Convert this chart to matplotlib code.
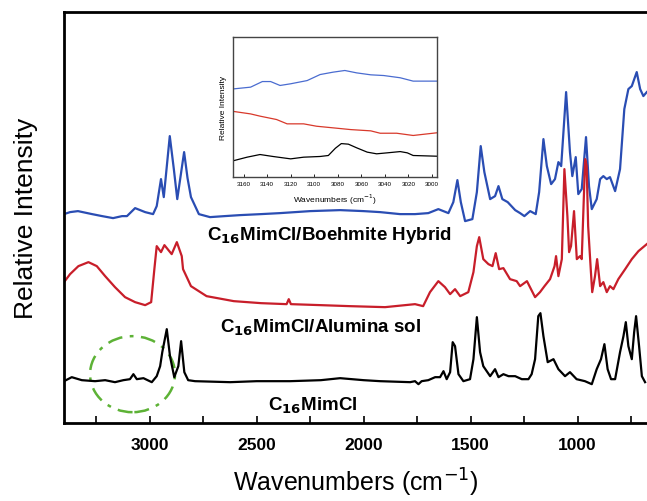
import matplotlib.pyplot as plt
from matplotlib.patches import Ellipse
from matplotlib.ticker import MultipleLocator

plt.rcParams['font.family'] = ['Liberation Sans', 'DejaVu Sans']

# %%
# espectros (numero de onda, intensidade relativa)
wn_hybrid = [3400, 3372, 3335, 3269, 3222, 3171, 3129, 3106, 3068, 3021, 2984, 2967, 2947, 2934,
             2906, 2887, 2871, 2852, 2839, 2823, 2807, 2770, 2718, 2650, 2578, 2480, 2391, 2250,
             2110, 2000, 1923, 1830, 1760, 1698, 1651, 1604, 1581, 1562, 1546, 1526, 1492, 1471,
             1453, 1436, 1409, 1386, 1370, 1352, 1327, 1292, 1269, 1249, 1222, 1196, 1180, 1160,
             1144, 1124, 1106, 1090, 1077, 1054, 1036, 1025, 1009, 997, 981, 961, 947, 934, 911,
             895, 880, 864, 849, 825, 802, 782, 763, 747, 724, 708, 693, 677]
int_hybrid = [209, 211, 212, 209, 207, 205, 207, 207, 215, 211, 209, 217, 244, 226,
              287, 254, 224, 252, 271, 245, 226, 209, 206, 207, 208, 209, 210, 212,
              213, 212, 211, 209, 209, 210, 214, 210, 221, 243, 221, 202, 204, 231,
              277, 251, 224, 227, 237, 224, 221, 213, 210, 207, 212, 209, 231, 284,
              257, 239, 244, 261, 257, 331, 271, 247, 266, 229, 234, 286, 237, 214, 224,
              244, 247, 244, 246, 232, 254, 314, 334, 337, 351, 334, 327, 331]

wn_sol = [3400, 3372, 3333, 3286, 3247, 3208, 3162, 3115, 3068, 3021, 2993, 2978, 2967, 2947,
          2931, 2897, 2873, 2850, 2844, 2820, 2807, 2734, 2607, 2480, 2360, 2350, 2340, 2200,
          2065, 1900, 1760, 1722, 1690, 1651, 1620, 1596, 1573, 1549, 1511, 1487, 1471, 1460,
          1441, 1417, 1398, 1383, 1367, 1347, 1316, 1285, 1269, 1237, 1218, 1199, 1176, 1155,
          1129, 1108, 1101, 1090, 1074, 1062, 1048, 1040, 1031, 1017, 1004, 989, 981, 965,
          958, 951, 938, 932, 919, 909, 895, 880, 864, 849, 833, 810, 778, 747, 716, 677]
int_sol = [141, 149, 157, 161, 157, 147, 136, 126, 121, 118, 121, 154, 177, 171,
           178, 169, 181, 167, 154, 143, 137, 127, 122, 120, 119, 124, 119, 118,
           117, 116, 119, 117, 131, 142, 136, 129, 134, 127, 131, 151, 177, 186,
           164, 159, 157, 170, 154, 155, 144, 142, 137, 142, 134, 126, 131, 137,
           144, 157, 167, 147, 164, 254, 207, 171, 177, 212, 164, 167, 164, 264,
           257, 197, 151, 131, 147, 164, 137, 141, 131, 137, 134, 144, 154, 164, 172, 179]

wn_pure = [3400, 3364, 3317, 3255, 3208, 3162, 3123, 3092, 3076, 3060, 3029, 2990, 2967, 2951,
           2941, 2920, 2905, 2885, 2866, 2853, 2838, 2820, 2788, 2624, 2500, 2344, 2200, 2110,
           2000, 1923, 1783, 1760, 1744, 1729, 1698, 1666, 1643, 1627, 1612, 1596, 1584, 1573,
           1557, 1534, 1503, 1487, 1471, 1456, 1441, 1409, 1386, 1370, 1347, 1323, 1292, 1261,
           1230, 1215, 1199, 1184, 1174, 1160, 1140, 1113, 1090, 1059, 1036, 1005, 966, 934,
           911, 891, 875, 860, 844, 825, 802, 786, 775, 763, 747, 736, 727, 713, 700, 685]
int_pure = [42, 46, 43, 42, 43, 41, 43, 44, 49, 44, 45, 41, 47, 57,
            71, 94, 67, 46, 57, 82, 51, 43, 42, 41, 42, 42, 43, 45,
            43, 42, 41, 42, 39, 42, 43, 46, 46, 52, 44, 51, 81, 77,
            49, 42, 44, 64, 106, 71, 57, 47, 54, 46, 49, 47, 47, 44,
            44, 49, 64, 107, 110, 87, 61, 64, 54, 47, 51, 44, 42, 39,
            54, 64, 79, 54, 44, 44, 71, 87, 101, 77, 64, 91, 107, 77, 47, 41]

# detalhe da regiao 3000-3170 (inset)
wn_in_hybrid = [3168, 3154, 3144, 3137, 3129, 3120, 3106, 3095, 3084, 3074, 3064, 3052, 3041, 3027, 3016, 2996]
int_in_hybrid = [0.631, 0.643, 0.683, 0.683, 0.655, 0.667, 0.69, 0.733, 0.75, 0.762, 0.745, 0.731, 0.726, 0.71, 0.686, 0.686]
wn_in_sol = [3168, 3154, 3146, 3132, 3123, 3109, 3098, 3081, 3069, 3052, 3044, 3030, 3016, 2996]
int_in_sol = [0.469, 0.452, 0.436, 0.412, 0.381, 0.381, 0.364, 0.35, 0.34, 0.331, 0.314, 0.314, 0.298, 0.317]
wn_in_pure = [3168, 3157, 3146, 3135, 3120, 3109, 3095, 3088, 3082, 3077, 3071, 3064, 3055, 3047, 3038, 3027, 3021, 3016, 2996]
int_in_pure = [0.119, 0.143, 0.162, 0.148, 0.131, 0.143, 0.148, 0.155, 0.207, 0.24, 0.236, 0.21, 0.179, 0.167, 0.174, 0.183, 0.174, 0.155, 0.15]

labels = [r"C$_{\mathbf{16}}$MimCl/Boehmite Hybrid",
          r"C$_{\mathbf{16}}$MimCl/Alumina sol",
          r"C$_{\mathbf{16}}$MimCl"]

# %%
fig = plt.figure(figsize=(6.47, 5.02), dpi=100)
ax = fig.add_axes([0.099, 0.155, 0.901, 0.819])

ax.plot(wn_hybrid, int_hybrid, color='#2a4db3', lw=1.6)
ax.plot(wn_sol, int_sol, color='#c81e2a', lw=1.6)
ax.plot(wn_pure, int_pure, color='black', lw=1.6)

ax.add_patch(Ellipse((3080, 49), 397, 76, fill=False, ec='#5db236',
                     lw=1.8, ls=(0, (6, 3, 1.5, 3))))

ax.text(2162, 189, labels[0], ha='center', va='center', fontsize=13.5, fontweight='bold')
ax.text(2200, 96, labels[1], ha='center', va='center', fontsize=13.5, fontweight='bold')
ax.text(2236, 18, labels[2], ha='center', va='center', fontsize=13.5, fontweight='bold')

ax.set_xlim(3400, 676)
ax.set_ylim(0, 411)
ax.xaxis.set_major_locator(MultipleLocator(500))
ax.xaxis.set_minor_locator(MultipleLocator(250))
ax.tick_params(axis='x', which='both', direction='in', length=5, width=1.2, labelsize=12.5, pad=10)
ax.tick_params(axis='y', left=False, labelleft=False)
for lbl in ax.get_xticklabels():
    lbl.set_fontweight('bold')
for s in ['left', 'bottom', 'top']:
    ax.spines[s].set_linewidth(2)
ax.spines['right'].set_visible(False)
ax.set_xlabel(r"Wavenumbers (cm$^{-1}$)", fontsize=18, labelpad=10)
ax.set_ylabel("Relative Intensity", fontsize=19, labelpad=19)

# %%
# inset
axi = fig.add_axes([0.360, 0.645, 0.315, 0.279])
axi.plot(wn_in_hybrid, int_in_hybrid, color='#4a6cd0', lw=0.9)
axi.plot(wn_in_sol, int_in_sol, color='#d8392b', lw=0.9)
axi.plot(wn_in_pure, int_in_pure, color='black', lw=0.9)
axi.set_xlim(3169, 2996)
axi.set_ylim(0, 1)
axi.xaxis.set_major_locator(MultipleLocator(20))
axi.tick_params(axis='x', direction='in', length=2, width=0.6, labelsize=4.5, pad=3)
axi.tick_params(axis='y', left=False, labelleft=False)
for s in axi.spines.values():
    s.set_linewidth(1)
    s.set_color('#444444')
axi.set_xlabel(r"Wavenumbers (cm$^{-1}$)", fontsize=6, labelpad=4)
axi.set_ylabel("Relative Intensity", fontsize=6, labelpad=4)

fig.savefig('out.png', dpi=100)
